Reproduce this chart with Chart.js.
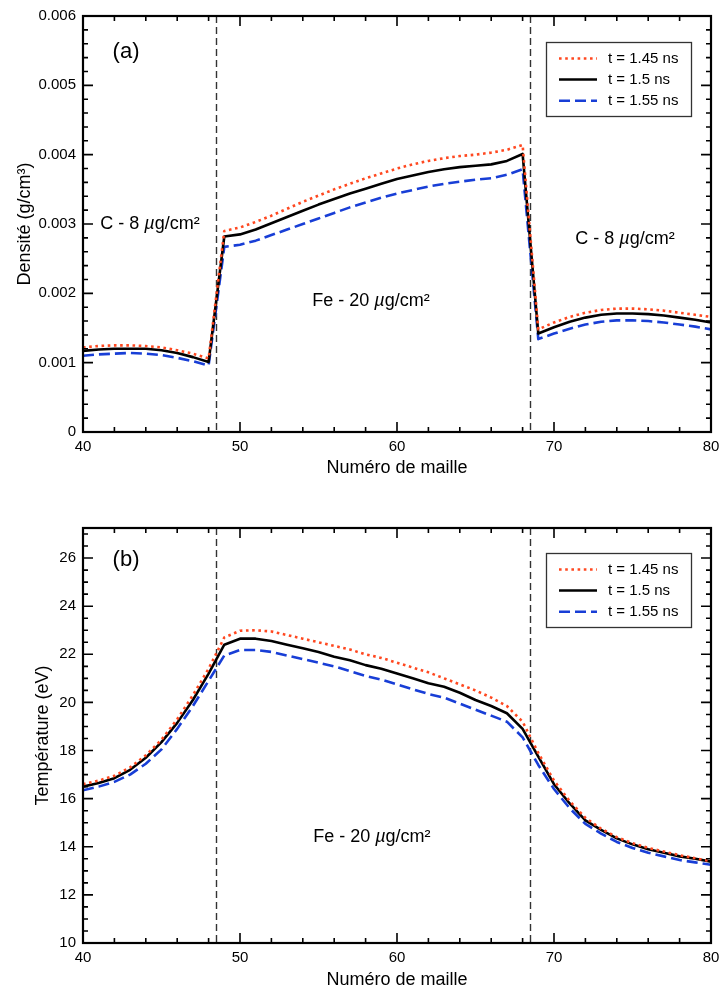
<!DOCTYPE html>
<html><head><meta charset="utf-8">
<script src="https://cdn.jsdelivr.net/npm/chart.js@4.4.1/dist/chart.umd.min.js"></script>
<style>
html,body{margin:0;padding:0;background:#fff;}
#wrapA{position:absolute;left:0;top:0;width:721px;height:480px;}
#wrapB{position:absolute;left:0;top:480px;width:721px;height:512px;}
</style></head><body>
<div id="wrapA"><canvas id="chartA" width="721" height="480"></canvas></div>
<div id="wrapB"><canvas id="chartB" width="721" height="512"></canvas></div>
<script>
// ---------- DATA ----------
const cells = [40,41,42,43,44,45,46,47,48,49,50,51,52,53,54,55,56,57,58,59,60,61,62,63,64,65,66,67,68,69,70,71,72,73,74,75,76,77,78,79,80];
const seriesLabels = ['t = 1.45 ns', 't = 1.5 ns', 't = 1.55 ns'];

const densT145 = [0.00122,0.00124,0.00125,0.00125,0.00124,0.00122,0.00118,0.00113,0.00106,
  0.00290,0.00295,0.00303,0.00312,0.00322,0.00332,0.00341,0.00350,0.00358,0.00366,0.00373,0.00380,0.00386,0.00391,0.00395,0.00398,0.00400,0.00403,0.00407,0.00414,
  0.00148,0.00158,0.00166,0.00172,0.00176,0.00178,0.00178,0.00177,0.00175,0.00172,0.00169,0.00166];
const densT150 = [0.00117,0.00119,0.00120,0.00120,0.00120,0.00118,0.00114,0.00108,0.00101,
  0.00282,0.00285,0.00292,0.00301,0.00310,0.00319,0.00328,0.00336,0.00344,0.00351,0.00358,0.00365,0.00370,0.00375,0.00379,0.00382,0.00384,0.00386,0.00391,0.00401,
  0.00142,0.00151,0.00159,0.00165,0.00169,0.00171,0.00171,0.00170,0.00168,0.00165,0.00162,0.00158];
const densT155 = [0.00110,0.00112,0.00113,0.00114,0.00113,0.00111,0.00107,0.00102,0.00096,
  0.00267,0.00270,0.00276,0.00284,0.00292,0.00300,0.00308,0.00316,0.00324,0.00331,0.00338,0.00344,0.00349,0.00354,0.00358,0.00361,0.00364,0.00366,0.00371,0.00379,
  0.00134,0.00142,0.00149,0.00155,0.00159,0.00161,0.00161,0.00160,0.00158,0.00155,0.00152,0.00148];

const tempT145 = [16.6,16.75,16.95,17.3,17.8,18.45,19.3,20.3,21.4,
  22.7,22.98,23.0,22.95,22.8,22.65,22.5,22.35,22.2,22.0,21.85,21.65,21.45,21.25,21.0,20.75,20.5,20.2,19.85,19.2,
  17.9,16.75,15.9,15.2,14.75,14.4,14.15,13.95,13.8,13.65,13.52,13.4];
const tempT150 = [16.5,16.65,16.85,17.2,17.7,18.35,19.15,20.1,21.2,
  22.4,22.65,22.65,22.55,22.4,22.25,22.1,21.9,21.75,21.55,21.4,21.2,21.0,20.8,20.65,20.4,20.1,19.85,19.55,18.9,
  17.75,16.6,15.8,15.1,14.7,14.35,14.1,13.9,13.75,13.6,13.5,13.38];
const tempT155 = [16.35,16.5,16.7,17.0,17.45,18.05,18.9,19.85,20.9,
  21.95,22.18,22.18,22.1,21.95,21.8,21.65,21.5,21.3,21.1,20.95,20.75,20.55,20.35,20.2,19.95,19.7,19.45,19.2,18.55,
  17.4,16.4,15.6,14.95,14.55,14.2,13.95,13.75,13.6,13.45,13.35,13.25];

const interfaces = [48.5, 68.5];
const xTicks = [40,50,60,70,80];
const xTickLabels = ['40','50','60','70','80'];
const yTicksA = [0,0.001,0.002,0.003,0.004,0.005,0.006];
const yTickLabelsA = ['0','0.001','0.002','0.003','0.004','0.005','0.006'];
const yTicksB = [10,12,14,16,18,20,22,24,26];
const yTickLabelsB = ['10','12','14','16','18','20','22','24','26'];

// ---------- STYLE ----------
const FONT = '"Liberation Sans", Arial, Helvetica, sans-serif';
Chart.defaults.font.family = FONT;
Chart.defaults.color = '#000';
const RED = 'rgb(255,72,32)', BLACK = '#000', BLUE = 'rgb(24,62,214)';
const styles = [
  {color: RED, dash: [2.6, 3.6], width: 2.6},
  {color: BLACK, dash: [], width: 2.6},
  {color: BLUE, dash: [11, 5], width: 2.6}
];

function makeDatasets(arrs){
  return arrs.map((arr,i)=>({
    label: seriesLabels[i],
    data: cells.map((c,k)=>({x:c, y:arr[k]})),
    borderColor: styles[i].color,
    borderDash: styles[i].dash,
    borderWidth: styles[i].width,
    pointRadius: 0,
    fill: false,
    tension: 0,
    borderJoinStyle: 'round'
  }));
}

function drawRich(ctx, parts, cx, cy, size){
  let total = 0;
  parts.forEach(p=>{ ctx.font = (p.i?'italic ':'') + size + 'px ' + FONT; p.w = ctx.measureText(p.t).width; total += p.w; });
  let x = cx - total/2;
  ctx.textAlign = 'left'; ctx.textBaseline = 'middle'; ctx.fillStyle = '#000';
  parts.forEach(p=>{ ctx.font = (p.i?'italic ':'') + size + 'px ' + FONT; ctx.fillText(p.t, x, cy); x += p.w; });
}

const decor = {
  id: 'decor',
  beforeDatasetsDraw(chart, args, o){
    const ctx = chart.ctx, xs = chart.scales.x, {top, bottom} = chart.chartArea;
    ctx.save();
    ctx.strokeStyle = '#333'; ctx.lineWidth = 1.4; ctx.setLineDash([7,4]);
    interfaces.forEach(v=>{
      const px = Math.round(xs.getPixelForValue(v)) + 0.5;
      ctx.beginPath(); ctx.moveTo(px, top); ctx.lineTo(px, bottom); ctx.stroke();
    });
    ctx.restore();
  },
  afterDraw(chart, args, o){
    const ctx = chart.ctx, xs = chart.scales.x, ys = chart.scales.y;
    const {left, right, top, bottom} = chart.chartArea;
    ctx.save();
    ctx.strokeStyle = '#000'; ctx.lineWidth = 1.6; ctx.setLineDash([]);
    const nX = Math.round((xs.max - xs.min)/o.xMinor);
    for (let k=0;k<=nX;k++){
      const v = xs.min + k*o.xMinor;
      const r = (v - xs.min)/o.xMajor; const major = Math.abs(r-Math.round(r))<1e-6;
      const L = major?10:5; const px = xs.getPixelForValue(v);
      ctx.beginPath(); ctx.moveTo(px,bottom); ctx.lineTo(px,bottom-L); ctx.moveTo(px,top); ctx.lineTo(px,top+L); ctx.stroke();
    }
    const nY = Math.floor((ys.max - ys.min)/o.yMinor + 1e-6);
    for (let k=0;k<=nY;k++){
      const v = ys.min + k*o.yMinor;
      const r = (v - ys.min)/o.yMajor; const major = Math.abs(r-Math.round(r))<1e-6;
      const L = major?10:5; const py = ys.getPixelForValue(v);
      ctx.beginPath(); ctx.moveTo(left,py); ctx.lineTo(left+L,py); ctx.moveTo(right,py); ctx.lineTo(right-L,py); ctx.stroke();
    }
    ctx.lineWidth = 2.2;
    ctx.strokeRect(left, top, right-left, bottom-top);
    o.texts.forEach(t=>{
      drawRich(ctx, t.parts, xs.getPixelForValue(t.x), ys.getPixelForValue(t.y), t.size);
    });
    const bw = 145, bh = 74;
    const bx = right - 20 - bw, by = top + o.legendTop;
    ctx.lineWidth = 1.3; ctx.strokeStyle = '#333';
    ctx.strokeRect(bx+0.5, by+0.5, bw, bh);
    const rows = [16.5, 37.5, 58.7];
    chart.data.datasets.forEach((ds,i)=>{
      const yy = by + rows[i];
      ctx.strokeStyle = ds.borderColor; ctx.lineWidth = ds.borderWidth; ctx.setLineDash(ds.borderDash);
      ctx.beginPath(); ctx.moveTo(bx+13, yy); ctx.lineTo(bx+51, yy); ctx.stroke();
      ctx.setLineDash([]);
      ctx.fillStyle = '#000'; ctx.font = '15px ' + FONT; ctx.textAlign='left'; ctx.textBaseline='middle';
      ctx.fillText(ds.label, bx+62, yy+0.5);
    });
    ctx.restore();
  }
};

function zeroPad(s){ s.paddingLeft = 0; s.paddingRight = 0; s.paddingTop = 0; s.paddingBottom = 0; }

function makeChart(id, arrs, yMin, yMax, yTicks, yLabels, yTitle, titlePadTop, padTop, xHeight, decorOpts){
  return new Chart(document.getElementById(id), {
    type: 'line',
    data: { datasets: makeDatasets(arrs) },
    plugins: [decor],
    options: {
      responsive: false, animation: false, devicePixelRatio: 1,
      layout: { padding: { top: padTop, right: 10, left: 0, bottom: 0 } },
      plugins: { legend: {display:false}, tooltip: {enabled:false}, decor: decorOpts },
      scales: {
        x: {
          type: 'linear', min: 40, max: 80,
          grid: {display:false, drawTicks:false}, border: {display:false},
          afterBuildTicks: s => { s.ticks = xTicks.map(v=>({value:v})); },
          ticks: { font:{size:15}, color:'#000', padding: 6, maxRotation:0, autoSkip:false,
                   callback: (v,i) => xTickLabels[i] },
          title: { display:true, text:'Numéro de maille', font:{size:18}, color:'#000', padding:{top:0,bottom:1} },
          afterFit: s => { s.height = xHeight; zeroPad(s); }
        },
        y: {
          type: 'linear', min: yMin, max: yMax,
          grid: {display:false, drawTicks:false}, border: {display:false},
          afterBuildTicks: s => { s.ticks = yTicks.map(v=>({value:v})); },
          ticks: { font:{size:15}, color:'#000', padding: 7, autoSkip:false,
                   callback: (v,i) => yLabels[i] },
          title: { display:true, text:yTitle, font:{size:18}, color:'#000', padding:{top:titlePadTop,bottom:0} },
          afterFit: s => { s.width = 83; zeroPad(s); }
        }
      }
    }
  });
}

makeChart('chartA', [densT145, densT150, densT155], 0, 0.006, yTicksA, yTickLabelsA,
  'Densité (g/cm³)', 14, 16, 48, {
    xMinor: 2, xMajor: 10, yMinor: 0.0002, yMajor: 0.001, legendTop: 26,
    texts: [
      {x: 42.74, y: 0.00548, size: 22, parts: [{t:'(a)'}]},
      {x: 44.27, y: 0.00300, size: 18, parts: [{t:'C - 8 '},{t:'µ',i:true},{t:'g/cm²'}]},
      {x: 74.52, y: 0.00278, size: 18, parts: [{t:'C - 8 '},{t:'µ',i:true},{t:'g/cm²'}]},
      {x: 58.34, y: 0.00189, size: 18, parts: [{t:'Fe - 20 '},{t:'µ',i:true},{t:'g/cm²'}]}
    ]
  });

makeChart('chartB', [tempT145, tempT150, tempT155], 10, 27.25, yTicksB, yTickLabelsB,
  'Température (eV)', 32, 48, 49, {
    xMinor: 2, xMajor: 10, yMinor: 0.5, yMajor: 2, legendTop: 25,
    texts: [
      {x: 42.74, y: 25.92, size: 22, parts: [{t:'(b)'}]},
      {x: 58.4, y: 14.4, size: 18, parts: [{t:'Fe - 20 '},{t:'µ',i:true},{t:'g/cm²'}]}
    ]
  });
</script>
</body></html>
